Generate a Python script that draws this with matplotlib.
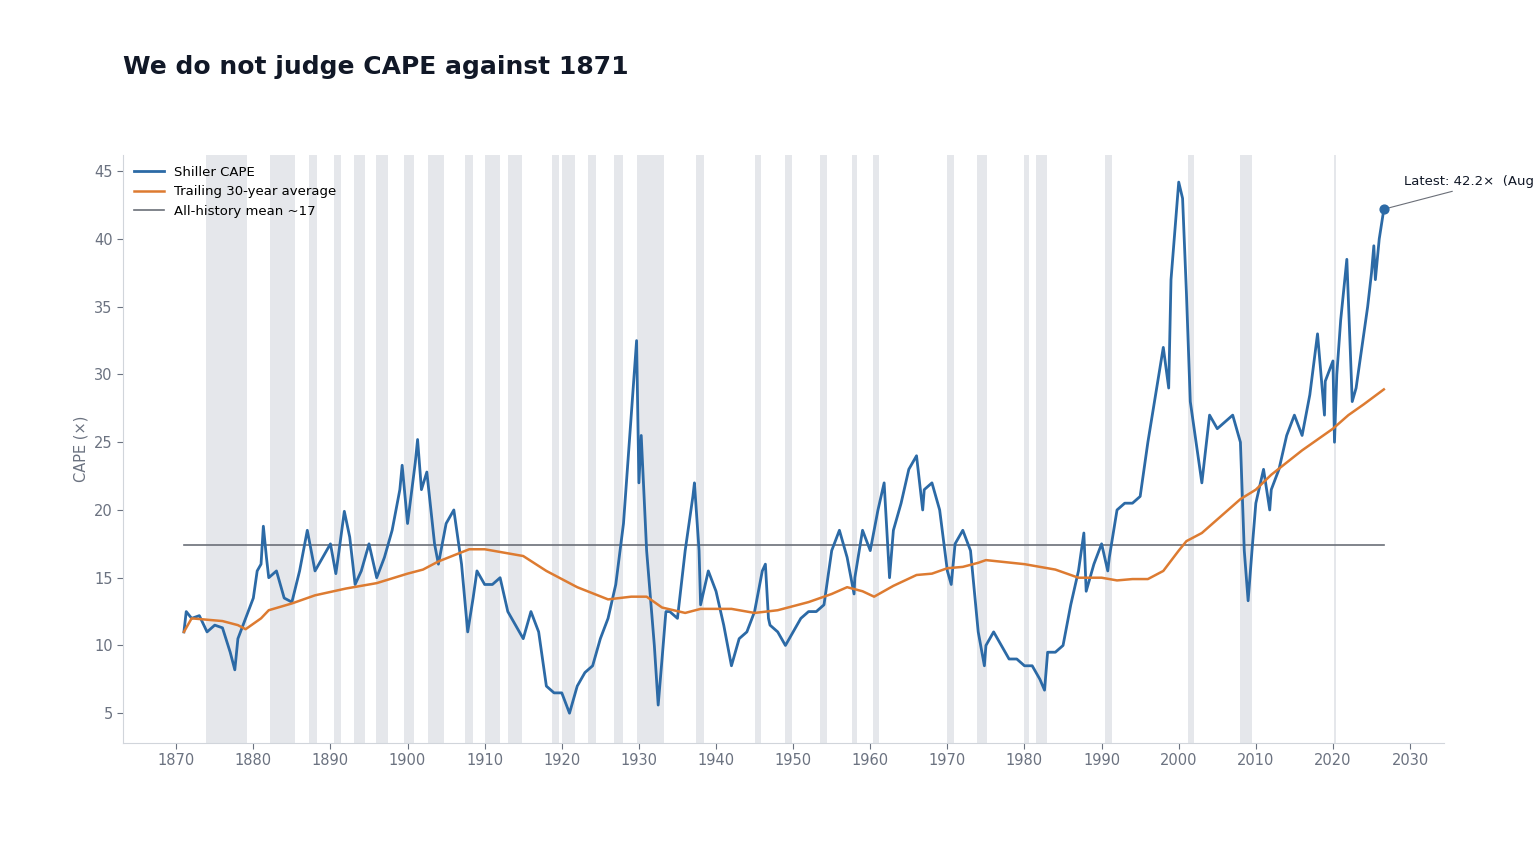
import matplotlib.pyplot as plt

cape_years = [1871.0, 1871.3, 1872, 1873, 1874, 1875, 1876, 1877, 1877.6, 1878, 1879, 1880, 1880.5, 1881, 1881.3, 1881.7,
              1882, 1883, 1884, 1885, 1886, 1887, 1887.5, 1888, 1889, 1890, 1890.7, 1891, 1891.8, 1892.5, 1893.2, 1894,
              1895, 1896, 1897, 1898, 1899, 1899.3, 1900, 1901, 1901.3, 1901.8, 1902.5, 1903.5, 1904, 1905, 1906, 1906.5,
              1907, 1907.8, 1908.5, 1909, 1910, 1911, 1912, 1913, 1914, 1915, 1916, 1917, 1918, 1919, 1920, 1921,
              1922, 1923, 1924, 1925, 1926, 1927, 1928, 1929, 1929.7, 1930, 1930.3, 1931, 1932, 1932.5, 1933, 1933.5,
              1934, 1935, 1936, 1937, 1937.2, 1937.8, 1938, 1939, 1940, 1941, 1942, 1943, 1944, 1945, 1946, 1946.4,
              1946.8, 1947, 1948, 1949, 1950, 1951, 1952, 1953, 1954, 1955, 1956, 1957, 1957.9, 1958, 1959, 1960,
              1961, 1961.8, 1962.5, 1963, 1964, 1965, 1966, 1966.8, 1967, 1968, 1969, 1970, 1970.5, 1971, 1972, 1973,
              1974, 1974.8, 1975, 1976, 1977, 1978, 1979, 1980, 1981, 1982, 1982.6, 1983, 1984, 1985, 1986, 1987,
              1987.7, 1988, 1989, 1990, 1990.8, 1991, 1992, 1993, 1994, 1995, 1996, 1997, 1998, 1998.7, 1999, 2000,
              2000.5, 2001, 2001.5, 2002, 2003, 2004, 2005, 2006, 2007, 2008, 2008.5, 2009, 2009.5, 2010, 2011, 2011.8,
              2012, 2013, 2014, 2015, 2016, 2017, 2018, 2018.9, 2019, 2020, 2020.2, 2020.5, 2021, 2021.8, 2022.5, 2023,
              2024, 2024.5, 2025, 2025.3, 2025.5, 2026, 2026.6]
cape_vals = [11.0, 12.5, 12.0, 12.2, 11.0, 11.5, 11.3, 9.5, 8.2, 10.5, 12.0, 13.5, 15.5, 16.0, 18.8, 16.5,
             15.0, 15.5, 13.5, 13.2, 15.5, 18.5, 17.0, 15.5, 16.5, 17.5, 15.3, 16.5, 19.9, 18.0, 14.5, 15.5,
             17.5, 15.0, 16.5, 18.5, 21.5, 23.3, 19.0, 23.5, 25.2, 21.5, 22.8, 17.5, 16.0, 19.0, 20.0, 18.0,
             16.0, 11.0, 13.5, 15.5, 14.5, 14.5, 15.0, 12.5, 11.5, 10.5, 12.5, 11.0, 7.0, 6.5, 6.5, 5.0,
             7.0, 8.0, 8.5, 10.5, 12.0, 14.5, 19.0, 27.0, 32.5, 22.0, 25.5, 17.0, 10.0, 5.6, 9.0, 12.5,
             12.5, 12.0, 17.0, 21.0, 22.0, 17.0, 13.0, 15.5, 14.0, 11.5, 8.5, 10.5, 11.0, 12.5, 15.5, 16.0,
             12.0, 11.5, 11.0, 10.0, 11.0, 12.0, 12.5, 12.5, 13.0, 17.0, 18.5, 16.5, 13.8, 15.0, 18.5, 17.0,
             20.0, 22.0, 15.0, 18.5, 20.5, 23.0, 24.0, 20.0, 21.5, 22.0, 20.0, 15.5, 14.5, 17.5, 18.5, 17.0,
             11.0, 8.5, 10.0, 11.0, 10.0, 9.0, 9.0, 8.5, 8.5, 7.5, 6.7, 9.5, 9.5, 10.0, 13.0, 15.5,
             18.3, 14.0, 16.0, 17.5, 15.5, 16.5, 20.0, 20.5, 20.5, 21.0, 25.0, 28.5, 32.0, 29.0, 37.0, 44.2,
             43.0, 36.0, 28.0, 26.0, 22.0, 27.0, 26.0, 26.5, 27.0, 25.0, 17.0, 13.3, 17.0, 20.5, 23.0, 20.0,
             21.5, 23.0, 25.5, 27.0, 25.5, 28.5, 33.0, 27.0, 29.5, 31.0, 25.0, 30.0, 34.0, 38.5, 28.0, 29.0,
             33.0, 35.0, 37.5, 39.5, 37.0, 40.0, 42.2]

avg_years = [1871, 1872, 1876, 1878, 1879, 1881, 1882, 1885, 1888, 1892, 1896, 1900, 1902, 1904, 1908, 1910,
             1915, 1918, 1922, 1926, 1929, 1931, 1933, 1936, 1938, 1942, 1945, 1948, 1952, 1955, 1957, 1959,
             1960.5, 1963, 1966, 1968, 1970, 1972, 1974, 1975, 1980, 1984, 1987, 1990, 1992, 1994, 1996, 1998,
             2000, 2001, 2003, 2005, 2008, 2010, 2012, 2016, 2020, 2022, 2024, 2026.6]
avg_vals = [11.0, 12.0, 11.8, 11.5, 11.2, 12.0, 12.6, 13.1, 13.7, 14.2, 14.6, 15.3, 15.6, 16.2, 17.1, 17.1,
            16.6, 15.5, 14.3, 13.4, 13.6, 13.6, 12.8, 12.4, 12.7, 12.7, 12.4, 12.6, 13.2, 13.8, 14.3, 14.0,
            13.6, 14.4, 15.2, 15.3, 15.7, 15.8, 16.1, 16.3, 16.0, 15.6, 15.0, 15.0, 14.8, 14.9, 14.9, 15.5,
            17.0, 17.7, 18.3, 19.3, 20.8, 21.5, 22.6, 24.4, 26.0, 27.0, 27.8, 28.9]

hist_mean = 17.4

recessions = [(1873.8, 1879.2), (1882.2, 1885.4), (1887.2, 1888.3), (1890.5, 1891.4), (1893.0, 1894.5),
              (1895.9, 1897.5), (1899.5, 1900.9), (1902.7, 1904.7), (1907.4, 1908.5), (1910.0, 1912.0),
              (1913.0, 1914.9), (1918.7, 1919.6), (1920.0, 1921.7), (1923.4, 1924.5), (1926.8, 1927.9),
              (1929.7, 1933.2), (1937.4, 1938.5), (1945.1, 1945.8), (1948.9, 1949.8), (1953.5, 1954.4),
              (1957.6, 1958.3), (1960.3, 1961.1), (1969.9, 1970.9), (1973.9, 1975.2), (1980.0, 1980.6),
              (1981.5, 1982.9), (1990.5, 1991.3), (2001.2, 2002.0), (2007.9, 2009.5), (2020.1, 2020.4)]

fig = plt.figure(figsize=(15.36, 8.64), dpi=100)
ax = fig.add_axes([123 / 1536, 1 - 743 / 864, (1444 - 123) / 1536, (743 - 155) / 864])

for a, b in recessions:
    ax.axvspan(a, b, color='#e5e7eb', lw=0, zorder=0)

ax.plot(cape_years, cape_vals, color='#2c6aa6', lw=2.0, label='Shiller CAPE', zorder=3)
ax.plot(avg_years, avg_vals, color='#dd7b31', lw=1.8, label='Trailing 30-year average', zorder=4)
ax.plot([cape_years[0], cape_years[-1]], [hist_mean, hist_mean], color='#6b6f78', lw=1.2,
        label='All-history mean ~17', zorder=2)

ax.scatter([cape_years[-1]], [cape_vals[-1]], color='#2c6aa6', s=40, zorder=5)
ax.annotate('Latest: 42.2×  (Aug 2025)', xy=(cape_years[-1], cape_vals[-1]), xytext=(2029.2, 44.0),
            fontsize=9.5, color='#111827', annotation_clip=False,
            arrowprops=dict(arrowstyle='-', color='#6b6f78', lw=0.8))

ax.set_xlim(1863.1, 2034.4)
ax.set_ylim(2.8, 46.2)
ax.set_xticks(range(1870, 2031, 10))
ax.set_yticks(range(5, 46, 5))
ax.tick_params(colors='#6b7280', labelsize=10.5, length=4)
for s in ['top', 'right']:
    ax.spines[s].set_visible(False)
for s in ['left', 'bottom']:
    ax.spines[s].set_color('#d1d5db')
ax.set_ylabel('CAPE (×)', color='#6b7280', fontsize=10.5)

ax.legend(loc='upper left', frameon=False, fontsize=9.5, handlelength=2.3, borderaxespad=0.4)
fig.text(123 / 1536, 1 - 67 / 864, 'We do not judge CAPE against 1871', fontsize=18, fontweight='bold',
         color='#111827', va='center')

fig.savefig('out.png', dpi=100)
